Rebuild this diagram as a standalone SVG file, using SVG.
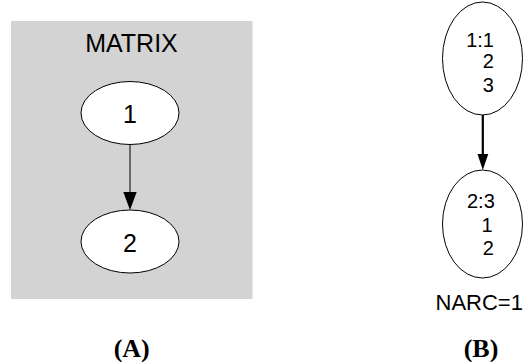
<svg xmlns="http://www.w3.org/2000/svg" width="527" height="362" viewBox="0 0 527 362">
<style>
.node{fill:#ffffff;stroke:#000000;stroke-width:1}
.lbl{font-family:"Liberation Sans",Arial,sans-serif;fill:#000000}
.cap{font-family:"Liberation Serif","Times New Roman",serif;font-weight:bold;font-size:26px;fill:#000000;text-anchor:middle}
</style>
<rect x="11" y="21" width="241.5" height="278" fill="#d3d3d3"/>
<text class="lbl" x="131.5" y="52.3" font-size="25" text-anchor="middle">MATRIX</text>
<g id="connectors">
<line x1="130" y1="144.5" x2="130" y2="193" stroke="#000" stroke-width="1"/>
<polygon points="123.3,192 136.7,192 130,210" fill="#000"/>
<line x1="482.8" y1="115" x2="482.8" y2="155" stroke="#000" stroke-width="2.2"/>
<polygon points="477.5,154 488.3,154 482.8,170" fill="#000"/>
</g>
<g id="m1">
<ellipse class="node" cx="130" cy="113" rx="49" ry="31.5"/>
<text class="lbl" x="130" y="123.3" font-size="25" text-anchor="middle">1</text>
</g>
<g id="m2">
<ellipse class="node" cx="130" cy="241.5" rx="49" ry="31.5"/>
<text class="lbl" x="130" y="251.7" font-size="25" text-anchor="middle">2</text>
</g>
<g id="b1">
<ellipse class="node" cx="482.5" cy="58.5" rx="40" ry="56.5"/>
<text class="lbl" x="466.2" y="46.7" font-size="20">1:1</text>
<text class="lbl" x="482.7" y="68.3" font-size="20">2</text>
<text class="lbl" x="482.7" y="91.7" font-size="20">3</text>
</g>
<g id="b2">
<ellipse class="node" cx="482.5" cy="224" rx="40" ry="54"/>
<text class="lbl" x="467" y="208.3" font-size="20">2:3</text>
<text class="lbl" x="481.5" y="231.7" font-size="20">1</text>
<text class="lbl" x="482.7" y="255" font-size="20">2</text>
</g>
<text class="lbl" x="435.5" y="309.5" font-size="22">NARC=1</text>
<text class="cap" x="131.7" y="357">(A)</text>
<text class="cap" x="481" y="357">(B)</text>
</svg>
